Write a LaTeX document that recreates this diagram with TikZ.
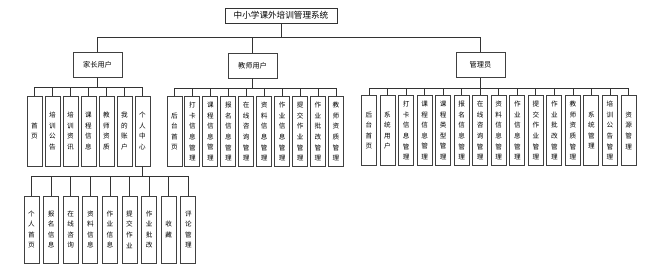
\documentclass[tikz,border=0pt]{standalone}
\usepackage{fontspec}
\newfontfamily\cjk{Noto Sans CJK SC}
\usetikzlibrary{positioning}

\begin{document}
\begin{tikzpicture}[
  x=1pt, y=-1pt,
  font=\cjk,
  rootbox/.style={draw=black!80,line width=0.9pt,fill=white,inner sep=0pt,minimum width=112pt,minimum height=15pt,font=\cjk\fontsize{8.6}{10}\selectfont},
  topbox/.style={draw=black!75,line width=1pt,fill=white,inner sep=0pt,minimum width=49pt,minimum height=25pt,font=\cjk\fontsize{7.2}{9}\selectfont},
  leaf/.style={draw=black!75,line width=1pt,fill=white,inner sep=0pt,minimum width=15pt,minimum height=70pt,align=center,font=\cjk\fontsize{6.6}{10.6}\selectfont},
  link/.style={draw=black!80,line width=0.75pt}
]
\useasboundingbox (0,0) rectangle (651,268);

% system and the three user roles
\node[rootbox] (sys) at (281,15.5) {中小学课外培训管理系统};
\node[topbox] (parent) at (97.5,64.5) {家长用户};
\node[topbox] (teacher) at (252.5,65.5) {教师用户};
\node[topbox] (admin) at (480.5,65) {管理员};
\foreach \role in {parent,teacher,admin}
  \draw[link] (sys.south) -- ++(0,14) -| (\role.north);

% parent user modules
\foreach \lbl [count=\i] in {首\\页,培\\训\\公\\告,培\\训\\资\\讯,课\\程\\信\\息,教\\师\\资\\质,我\\的\\账\\户,个\\人\\中\\心}
{
  \node[leaf] (p\i) at ({34.5+18*(\i-1)},131) {\lbl};
  \draw[link] (parent.south) -- ++(0,10) -| (p\i.north);
}

% teacher user modules
\foreach \lbl [count=\i] in {后\\台\\首\\页,打\\卡\\信\\息\\管\\理,课\\程\\信\\息\\管\\理,报\\名\\信\\息\\管\\理,在\\线\\咨\\询\\管\\理,资\\料\\信\\息\\管\\理,作\\业\\信\\息\\管\\理,提\\交\\作\\业\\管\\理,作\\业\\批\\改\\管\\理,教\\师\\资\\质\\管\\理}
{
  \node[leaf] (t\i) at ({174.5+17.94*(\i-1)},131.5) {\lbl};
  \draw[link] (teacher.south) -- ++(0,10) -| (t\i.north);
}

% administrator modules
\foreach \lbl [count=\i] in {后\\台\\首\\页,系\\统\\用\\户,打\\卡\\信\\息\\管\\理,课\\程\\信\\息\\管\\理,课\\程\\类\\型\\管\\理,报\\名\\信\\息\\管\\理,在\\线\\咨\\询\\管\\理,资\\料\\信\\息\\管\\理,作\\业\\信\\息\\管\\理,提\\交\\作\\业\\管\\理,作\\业\\批\\改\\管\\理,教\\师\\资\\质\\管\\理,系\\统\\管\\理,培\\训\\公\\告\\管\\理,资\\源\\管\\理}
{
  \node[leaf] (a\i) at ({369+18.54*(\i-1)},130.5) {\lbl};
  \draw[link] (admin.south) -- ++(0,10) -| (a\i.north);
}

% personal centre modules
\foreach \lbl [count=\i] in {个\\人\\首\\页,报\\名\\信\\息,在\\线\\咨\\询,资\\料\\信\\息,作\\业\\信\\息,提\\交\\作\\业,作\\业\\批\\改,收\\藏,评\\论\\管\\理}
{
  \node[leaf,minimum height=67pt] (c\i) at ({31.5+19.6*(\i-1)},229.5) {\lbl};
  \draw[link] (p7.south) -- ++(0,10) -| (c\i.north);
}
\end{tikzpicture}
\end{document}
